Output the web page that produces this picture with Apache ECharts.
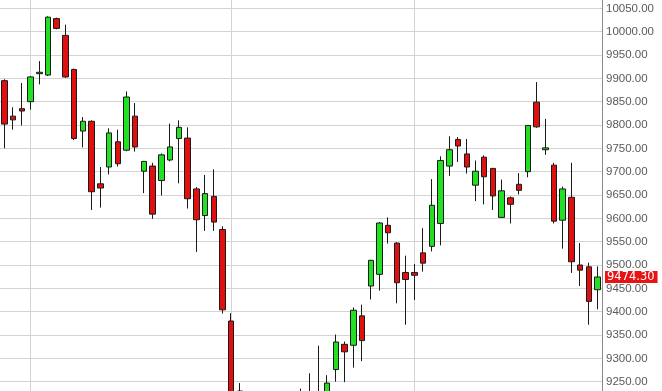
<!DOCTYPE html>
<html>
<head>
<meta charset="utf-8">
<script src="https://cdn.jsdelivr.net/npm/echarts@6/dist/echarts.min.js"></script>
<style>
html,body{margin:0;padding:0;background:#fff;overflow:hidden;width:662px;height:391px;}
#chart{position:absolute;left:0;top:-21px;width:662px;height:432px;}
</style>
</head>
<body>
<div id="chart"></div>
<script>
// Daily sessions (labels not shown on the chart)
const days = ["1","2","3","4","5","6","7","8","9","10","11","12","13","14","15","16","17","18","19","20",
  "21","22","23","24","25","26","27","28","29","30","31","32","33","34","35","36","37","38","39","40",
  "41","42","43","44","45","46","47","48","49","50","51","52","53","54","55","56","57","58","59","60",
  "61","62","63","64","65","66","67","68","69"];

const opens = [9895,9819,9835,9850,9910,9907,10028,9992,9919,9787,9808,9674,9710,9764,9746,9819,9701,9712,9681,9725,
  9771,9772,9663,9606,9647,9576,9380,9230,9170,9120,9150,9100,9130,9160,9190,9175,9210,9215,9276,9330,
  9328,9391,9455,9480,9585,9547,9484,9484,9526,9540,9589,9712,9769,9738,9671,9731,9707,9602,9644,9673,
  9700,9849,9747,9714,9596,9645,9500,9496,9447];
const closes = [9802,9811,9830,9903,9913,10031,10007,9903,9771,9808,9657,9665,9783,9717,9860,9753,9722,9609,9736,9753,
  9795,9642,9597,9653,9592,9404,9225,9170,9120,9150,9100,9130,9160,9190,9170,9210,9220,9247,9335,9314,
  9403,9338,9510,9590,9569,9462,9469,9478,9504,9628,9724,9747,9755,9710,9701,9689,9648,9659,9630,9660,
  9799,9796,9751,9594,9663,9507,9489,9422,9474.3];
const lows = [9750,9790,9799,9833,9887,9905,10005,9901,9768,9752,9618,9623,9694,9711,9744,9743,9654,9599,9649,9722,
  9675,9621,9528,9573,9573,9396,9215,9150,9100,9090,9070,9060,9110,9140,9150,9160,9190,9200,9250,9249,
  9280,9294,9426,9445,9546,9418,9372,9425,9486,9529,9542,9691,9721,9696,9637,9630,9618,9601,9589,9651,
  9688,9794,9736,9589,9535,9483,9455,9372,9405];
const highs = [9898,9838,9890,9905,9937,10033,10030,10015,9921,9817,9810,9710,9793,9790,9872,9847,9723,9719,9739,9803,
  9810,9795,9667,9693,9705,9583,9397,9247,9200,9180,9190,9170,9200,9225,9235,9268,9327,9264,9351,9336,
  9409,9415,9511,9592,9602,9549,9520,9502,9579,9684,9733,9776,9774,9770,9724,9735,9708,9683,9647,9697,
  9800,9892,9813,9719,9668,9719,9547,9505,9497];

// Month-start sessions marked with vertical grid lines
const monthStarts = ["4","27","48"];
const lastPrice = 9474.30;

const yMin = 9200, yMax = 10100, yStep = 50;

const candles = opens.map((o, i) => [o, closes[i], lows[i], highs[i]]);

const chart = echarts.init(document.getElementById('chart'), null, {renderer: 'canvas'});

const markItems = monthStarts.map(d => ({
  xAxis: d,
  label: {show: false},
  lineStyle: {color: '#d3d3d3', type: 'solid', width: 1}
}));
markItems.push({
  yAxis: lastPrice,
  lineStyle: {color: 'rgba(0,0,0,0)', width: 0},
  label: {
    show: true,
    position: 'end',
    distance: 3,
    formatter: lastPrice.toFixed(2),
    color: '#ffffff',
    backgroundColor: '#e81414',
    fontFamily: 'DejaVu Sans',
    fontSize: 11.5,
    padding: [1, 3, 0, 2],
    lineHeight: 11
  }
});

chart.setOption({
  animation: false,
  backgroundColor: '#ffffff',
  grid: {left: 0, right: 60, top: 0, bottom: 0, containLabel: false},
  xAxis: {
    type: 'category',
    data: days,
    boundaryGap: true,
    axisLine: {show: false},
    axisTick: {show: false},
    axisLabel: {show: false},
    splitLine: {show: false}
  },
  yAxis: {
    type: 'value',
    position: 'right',
    min: yMin,
    max: yMax,
    interval: yStep,
    axisLine: {show: true, lineStyle: {color: '#8a8a8a', width: 1}},
    axisTick: {show: false},
    axisLabel: {
      margin: 4,
      color: '#5a5a5a',
      fontFamily: 'Liberation Sans',
      fontSize: 11.5,
      formatter: v => v.toFixed(2)
    },
    splitLine: {show: true, lineStyle: {color: '#d3d3d3', width: 1}}
  },
  series: [{
    type: 'candlestick',
    data: candles,
    barWidth: 6,
    z: 3,
    itemStyle: {
      color: '#22e022',
      color0: '#e01010',
      borderColor: '#1a1a1a',
      borderColor0: '#1a1a1a',
      borderWidth: 1
    },
    markLine: {
      silent: true,
      z: 1,
      symbol: ['none', 'none'],
      animation: false,
      data: markItems
    }
  }]
});
</script>
</body>
</html>
